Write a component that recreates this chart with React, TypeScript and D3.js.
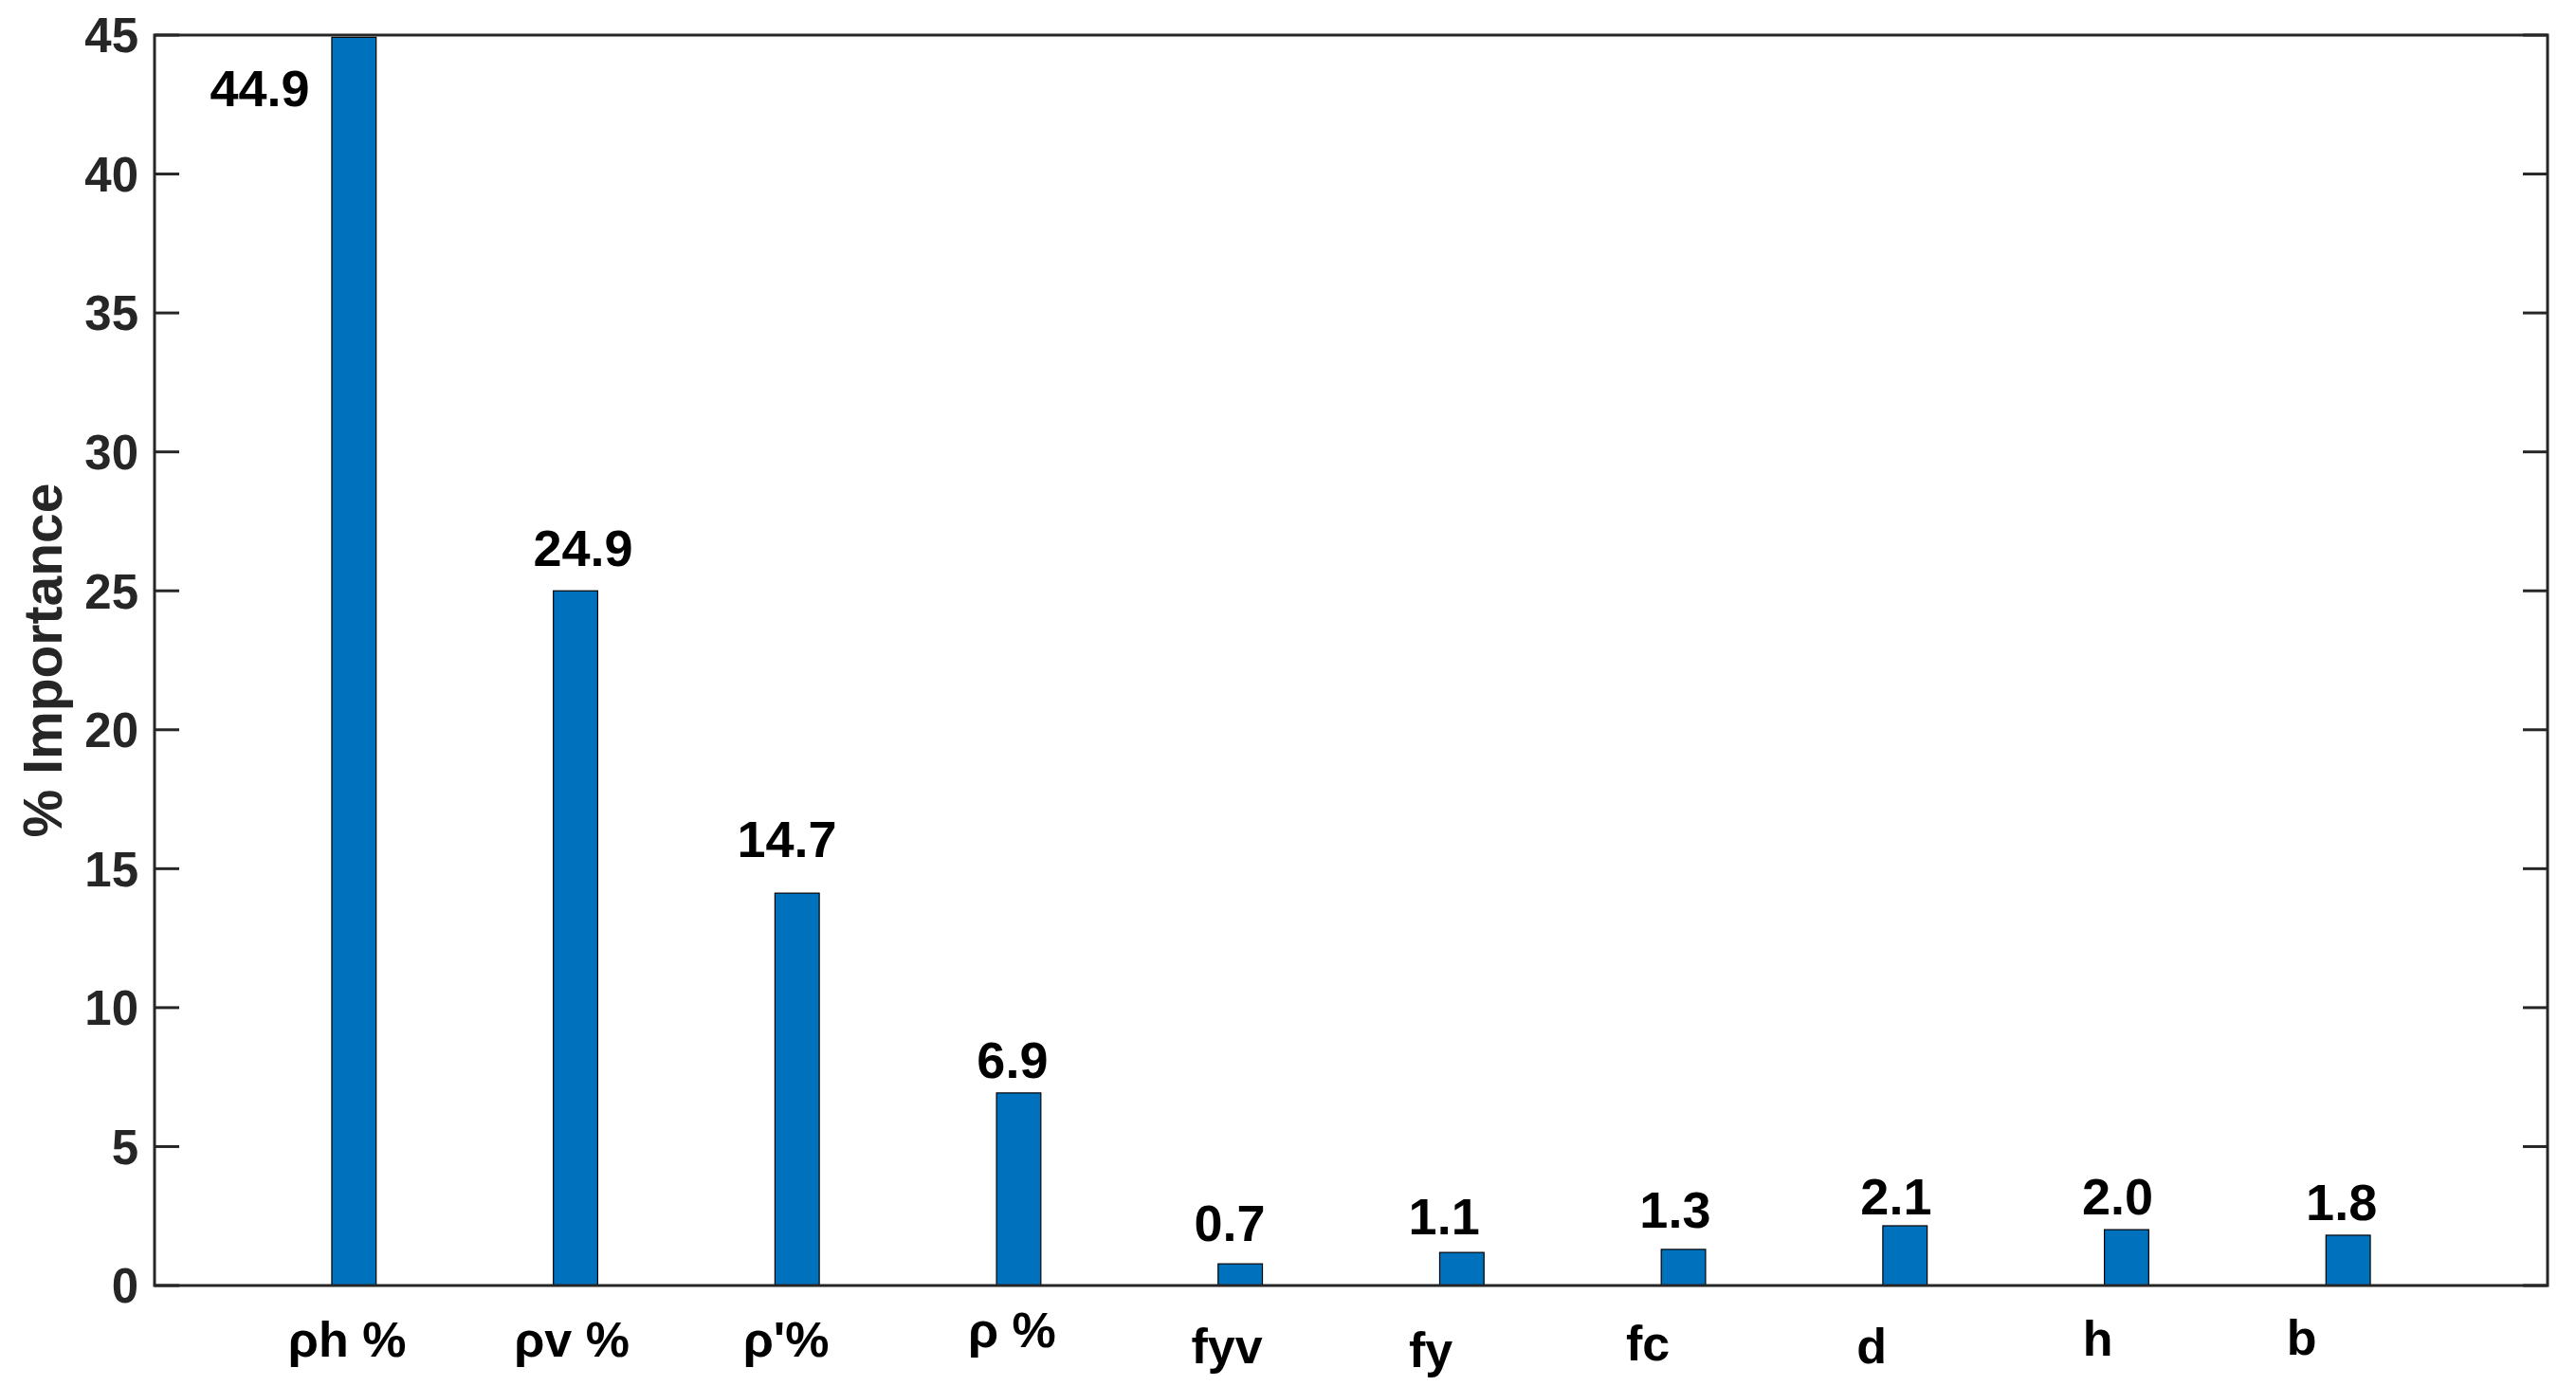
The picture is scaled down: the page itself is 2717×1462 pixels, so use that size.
import React from "react";
import * as d3 from "d3";

// ---- data ----
const categories = ["ρh %", "ρv %", "ρ'%", "ρ %", "fyv", "fy", "fc", "d", "h", "b"];
const importance = [44.92, 25.0, 14.12, 6.93, 0.78, 1.19, 1.3, 2.15, 2.01, 1.81];
const valueLabels = ["44.9", "24.9", "14.7", "6.9", "0.7", "1.1", "1.3", "2.1", "2.0", "1.8"];
// text anchor positions (data units) of value labels, as placed in the original figure
const valueLabelX = [0.575, 2.034, 2.954, 3.972, 4.952, 5.92, 6.963, 7.96, 8.96, 9.97];
const valueLabelY = [42.44, 25.9, 15.42, 7.47, 1.6, 1.84, 2.08, 2.56, 2.56, 2.35];
// category label positions (data units)
const catLabelX = [0.969, 1.983, 2.95, 3.97, 4.94, 5.86, 6.84, 7.85, 8.87, 9.79];
const catLabelY = [-2.56, -2.56, -2.56, -2.22, -2.8, -2.93, -2.7, -2.8, -2.52, -2.49];
const yTicks = [0, 5, 10, 15, 20, 25, 30, 35, 40, 45];
const yLabel = "% Importance";

const W = 2717;
const H = 1462;
const L = 163, R = 2687, T = 37, B = 1356;
const FONT = "'Liberation Sans', Arial, Helvetica, sans-serif";
const AX = "#262626";

export default function App() {
  const x = d3.scaleLinear().domain([0.1, 10.9]).range([L, R]);
  const y = d3.scaleLinear().domain([0, 45]).range([B, T]);
  const barW = x(1.2) - x(1.0);
  const tickLen = 26;

  return (
    <svg width={W} height={H} style={{ position: "absolute", left: 0, top: 0, background: "#fff" }}>
      <rect x={0} y={0} width={W} height={H} fill="#fff" />
      {importance.map((v, i) => (
        <rect
          key={i}
          x={x(i + 1) - barW / 2}
          y={y(v)}
          width={barW}
          height={y(0) - y(v)}
          fill="#0072BD"
          stroke="#000"
          strokeWidth={1.2}
        />
      ))}
      {/* y ticks left and right */}
      {yTicks.map((t) => (
        <g key={t}>
          <line x1={L} x2={L + tickLen} y1={y(t)} y2={y(t)} stroke={AX} strokeWidth={3} />
          <line x1={R} x2={R - tickLen} y1={y(t)} y2={y(t)} stroke={AX} strokeWidth={3} />
          <text
            x={L - 17}
            y={y(t)}
            dy="0.36em"
            textAnchor="end"
            fontFamily={FONT}
            fontWeight="bold"
            fontSize={51}
            fill={AX}
          >
            {t}
          </text>
        </g>
      ))}
      {/* frame */}
      <rect x={L} y={T} width={R - L} height={B - T} fill="none" stroke={AX} strokeWidth={3} />
      {/* value labels */}
      {valueLabels.map((s, i) => (
        <text
          key={i}
          x={x(valueLabelX[i])}
          y={y(valueLabelY[i])}
          textAnchor="middle"
          fontFamily={FONT}
          fontWeight="bold"
          fontSize={54}
          fill="#000"
        >
          {s}
        </text>
      ))}
      {/* category labels */}
      {categories.map((c, i) => (
        <text
          key={i}
          x={x(catLabelX[i])}
          y={y(catLabelY[i])}
          textAnchor="middle"
          fontFamily={FONT}
          fontWeight="bold"
          fontSize={52}
          fill="#000"
        >
          {c}
        </text>
      ))}
      {/* y axis label */}
      <text
        transform={`translate(65, ${(T + B) / 2}) rotate(-90)`}
        textAnchor="middle"
        fontFamily={FONT}
        fontWeight="bold"
        fontSize={57}
        fill={AX}
      >
        {yLabel}
      </text>
    </svg>
  );
}
